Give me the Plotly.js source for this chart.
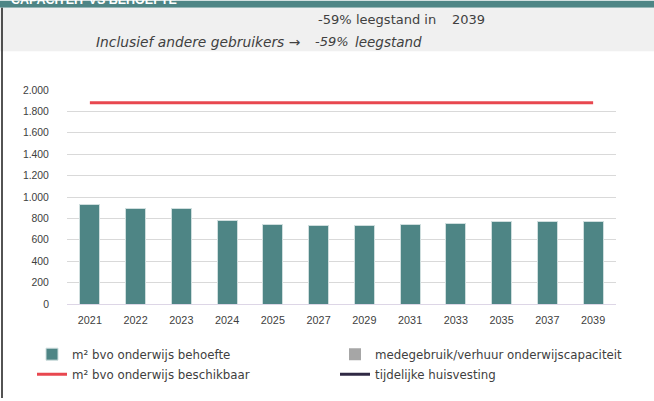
<!DOCTYPE html>
<html>
<head>
<meta charset="utf-8">
<script src="https://cdn.plot.ly/plotly-3.0.1.min.js"></script>
<style>
  html, body { margin: 0; padding: 0; background: #ffffff; }
  #chart { width: 654px; height: 401px; }
</style>
</head>
<body>
<div id="chart"></div>
<script>
// ---- data ----
const categories = ['2021','2022','2023','2024','2025','2027','2029','2031','2033','2035','2037','2039'];
const behoefte    = [933, 894, 890, 785, 739, 730, 736, 745, 757, 767, 773, 773];
const medegebruik = [0, 0, 0, 0, 0, 0, 0, 0, 0, 0, 0, 0];
const beschikbaar = [1880, 1880, 1880, 1880, 1880, 1880, 1880, 1880, 1880, 1880, 1880, 1880];
const tijdelijk   = [null, null, null, null, null, null, null, null, null, null, null, null];
const seriesNames = ['m² bvo onderwijs behoefte', 'medegebruik/verhuur onderwijscapaciteit',
                     'm² bvo onderwijs beschikbaar', 'tijdelijke huisvesting'];
const headerTitle = 'CAPACITEIT VS BEHOEFTE';
const leegstandPct = '-59%';
const leegstandPctIncl = '-59%';
const leegstandJaar = '2039';

// ---- layout helpers (pixel -> paper) ----
const W = 654, H = 401;
const M = {l: 67, r: 38, t: 90, b: 95};
const pw = W - M.l - M.r, ph = H - M.t - M.b;
const px = x => (x - M.l) / pw;
const py = y => (H - M.b - y) / ph;

const TEAL = '#4e8585';
const RED = '#e8474f';
const NAVY = '#2f2944';
const TXT = '#404040';
const FONT = 'DejaVu Sans';

const traces = [
  {type: 'bar', name: seriesNames[0], x: categories, y: behoefte,
   marker: {color: TEAL, line: {color: '#cfdede', width: 1}},
   legend: 'legend', legendgroup: 'a', hoverinfo: 'x+y'},
  {type: 'bar', name: seriesNames[1], x: categories, y: medegebruik,
   marker: {color: '#a6a6a6', line: {width: 0}},
   legend: 'legend2', legendgroup: 'b', hoverinfo: 'x+y'},
  {type: 'scatter', mode: 'lines', name: seriesNames[2], x: categories, y: beschikbaar,
   line: {color: RED, width: 3},
   legend: 'legend', legendgroup: 'c', hoverinfo: 'x+y'},
  {type: 'scatter', mode: 'lines', name: seriesNames[3], x: categories, y: tijdelijk,
   line: {color: NAVY, width: 3},
   legend: 'legend2', legendgroup: 'd', hoverinfo: 'x+y'}
];

const ann = (text, x, y, opts) => Object.assign({
  text: text, xref: 'paper', yref: 'paper', x: px(x), y: py(y),
  xanchor: 'left', yanchor: 'middle', showarrow: false,
  font: {family: FONT, size: 13, color: TXT}
}, opts || {});

const layout = {
  width: W, height: H,
  margin: M,
  paper_bgcolor: '#ffffff', plot_bgcolor: '#ffffff',
  separators: ',.',
  font: {family: FONT, size: 11, color: TXT},
  barmode: 'stack',
  bargap: 0.563,
  showlegend: true,
  xaxis: {
    type: 'category',
    showgrid: false, showline: false, zeroline: false,
    ticks: 'outside', ticklen: 6, tickcolor: 'rgba(0,0,0,0)',
    tickfont: {family: 'Liberation Sans', size: 10.8, color: TXT}
  },
  yaxis: {
    range: [0, 2000], dtick: 200, tickformat: ',',
    showgrid: true, gridcolor: '#d9d9d9', gridwidth: 1,
    zeroline: true, zerolinecolor: '#ddd6e6', zerolinewidth: 1,
    showline: false,
    ticks: 'outside', ticklen: 15, tickcolor: 'rgba(0,0,0,0)',
    tickfont: {family: 'Liberation Sans', size: 10.4, color: TXT}
  },
  legend: {
    x: px(32), y: py(342), xanchor: 'left', yanchor: 'top',
    orientation: 'v', bgcolor: 'rgba(0,0,0,0)', borderwidth: 0,
    tracegroupgap: 1, itemwidth: 30,
    font: {family: FONT, size: 11.8, color: TXT}
  },
  legend2: {
    x: px(335), y: py(342), xanchor: 'left', yanchor: 'top',
    orientation: 'v', bgcolor: 'rgba(0,0,0,0)', borderwidth: 0,
    tracegroupgap: 1, itemwidth: 30,
    font: {family: FONT, size: 11.8, color: TXT}
  },
  shapes: [
    // header band
    {type: 'rect', xref: 'paper', yref: 'paper', x0: px(0), x1: px(W), y0: py(7), y1: py(0),
     fillcolor: TEAL, line: {width: 0}, layer: 'below'},
    // grey info band
    {type: 'rect', xref: 'paper', yref: 'paper', x0: px(0), x1: px(W), y0: py(51), y1: py(7),
     fillcolor: '#f0f0f0', line: {width: 0}, layer: 'below'},
    // left frame line
    {type: 'line', xref: 'paper', yref: 'paper', x0: px(2), x1: px(2), y0: py(H), y1: py(7),
     line: {color: '#1a1a1a', width: 1.5}}
  ],
  annotations: [
    ann(headerTitle, 9, 8.5, {yanchor: 'bottom',
      font: {family: 'Liberation Sans', size: 12.5, color: '#ffffff', weight: 'bold'}}),
    ann(leegstandPct, 316, 19),
    ann('leegstand in', 354, 19),
    ann(leegstandJaar, 450, 19),
    ann('<i>Inclusief andere gebruikers →</i>', 94, 41.5,
      {font: {family: FONT, size: 13.8, color: TXT}}),
    ann('<i>' + leegstandPctIncl + '</i>', 313, 41.5),
    ann('<i>leegstand</i>', 353, 41.5, {font: {family: FONT, size: 13.5, color: TXT}})
  ]
};

Plotly.newPlot('chart', traces, layout, {displayModeBar: false, staticPlot: true});
</script>
</body>
</html>
